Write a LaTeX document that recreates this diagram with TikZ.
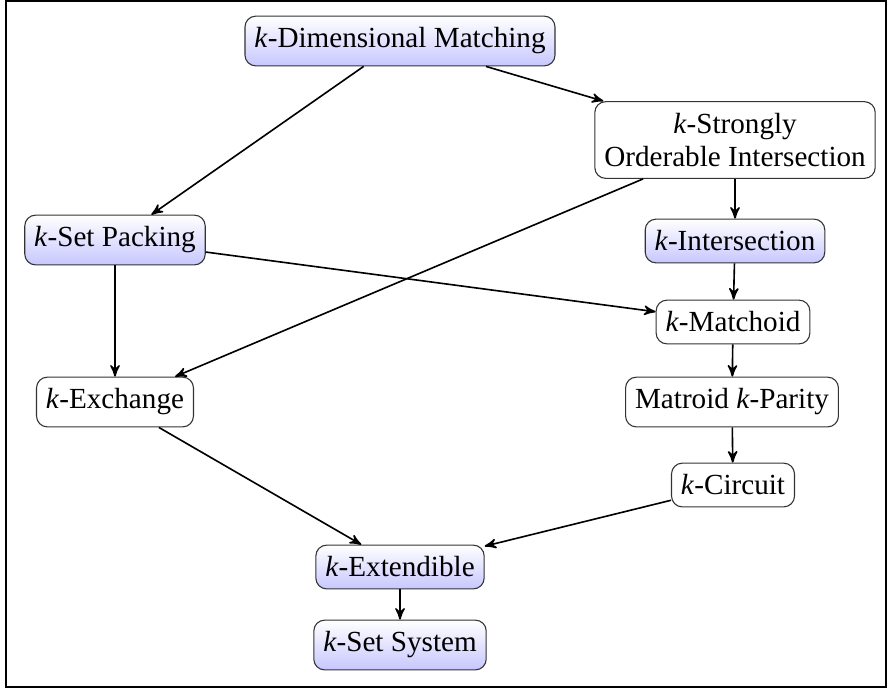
\documentclass[tikz,border=0pt]{standalone}
\usepackage{fontspec}
\setmainfont{Liberation Serif}
\usetikzlibrary{arrows,positioning}

\begin{document}
\begin{tikzpicture}
    [x=0.3704pt,y=-0.3704pt,>=stealth',
    base/.style={rectangle,rounded corners=4pt,draw=black!80,thin,
    inner xsep=3.5pt,inner ysep=4.3pt,align=center,
    font=\fontsize{10.8}{12.2}\selectfont},
    shadedbox/.style={base,top color=white,bottom color=blue!22},
    plainbox/.style={base,fill=white},
    every edge/.style={draw,->,line width=0.6pt}]
    \useasboundingbox (0,0) rectangle (888,689);
    \draw[line width=0.8pt] (6,1) rectangle (886,687);
    \node[shadedbox] (dim matching) at (400,41) {\textit{k}-Dimensional Matching};
    \node[plainbox] (strongly) at (735,140) {\textit{k}-Strongly\\Orderable Intersection};
    \node[shadedbox] (set packing) at (115,240) {\textit{k}-Set Packing};
    \node[shadedbox] (intersection) at (735,241) {\textit{k}-Intersection};
    \node[plainbox] (matchoid) at (733,322) {\textit{k}-Matchoid};
    \node[plainbox] (exchange) at (115,402) {\textit{k}-Exchange};
    \node[plainbox] (parity) at (732,402) {Matroid \textit{k}-Parity};
    \node[plainbox] (circuit) at (733,485) {\textit{k}-Circuit};
    \node[shadedbox] (extendible) at (400,567) {\textit{k}-Extendible};
    \node[shadedbox] (set system) at (400,645) {\textit{k}-Set System};
    \path (dim matching) edge (set packing)
          (dim matching) edge (strongly)
          (strongly) edge (intersection)
          (strongly) edge (exchange)
          (set packing) edge (matchoid)
          (set packing) edge (exchange)
          (intersection) edge (matchoid)
          (matchoid) edge (parity)
          (parity) edge (circuit)
          (exchange) edge (extendible)
          (circuit) edge (extendible)
          (extendible) edge (set system);
\end{tikzpicture}
\end{document}
